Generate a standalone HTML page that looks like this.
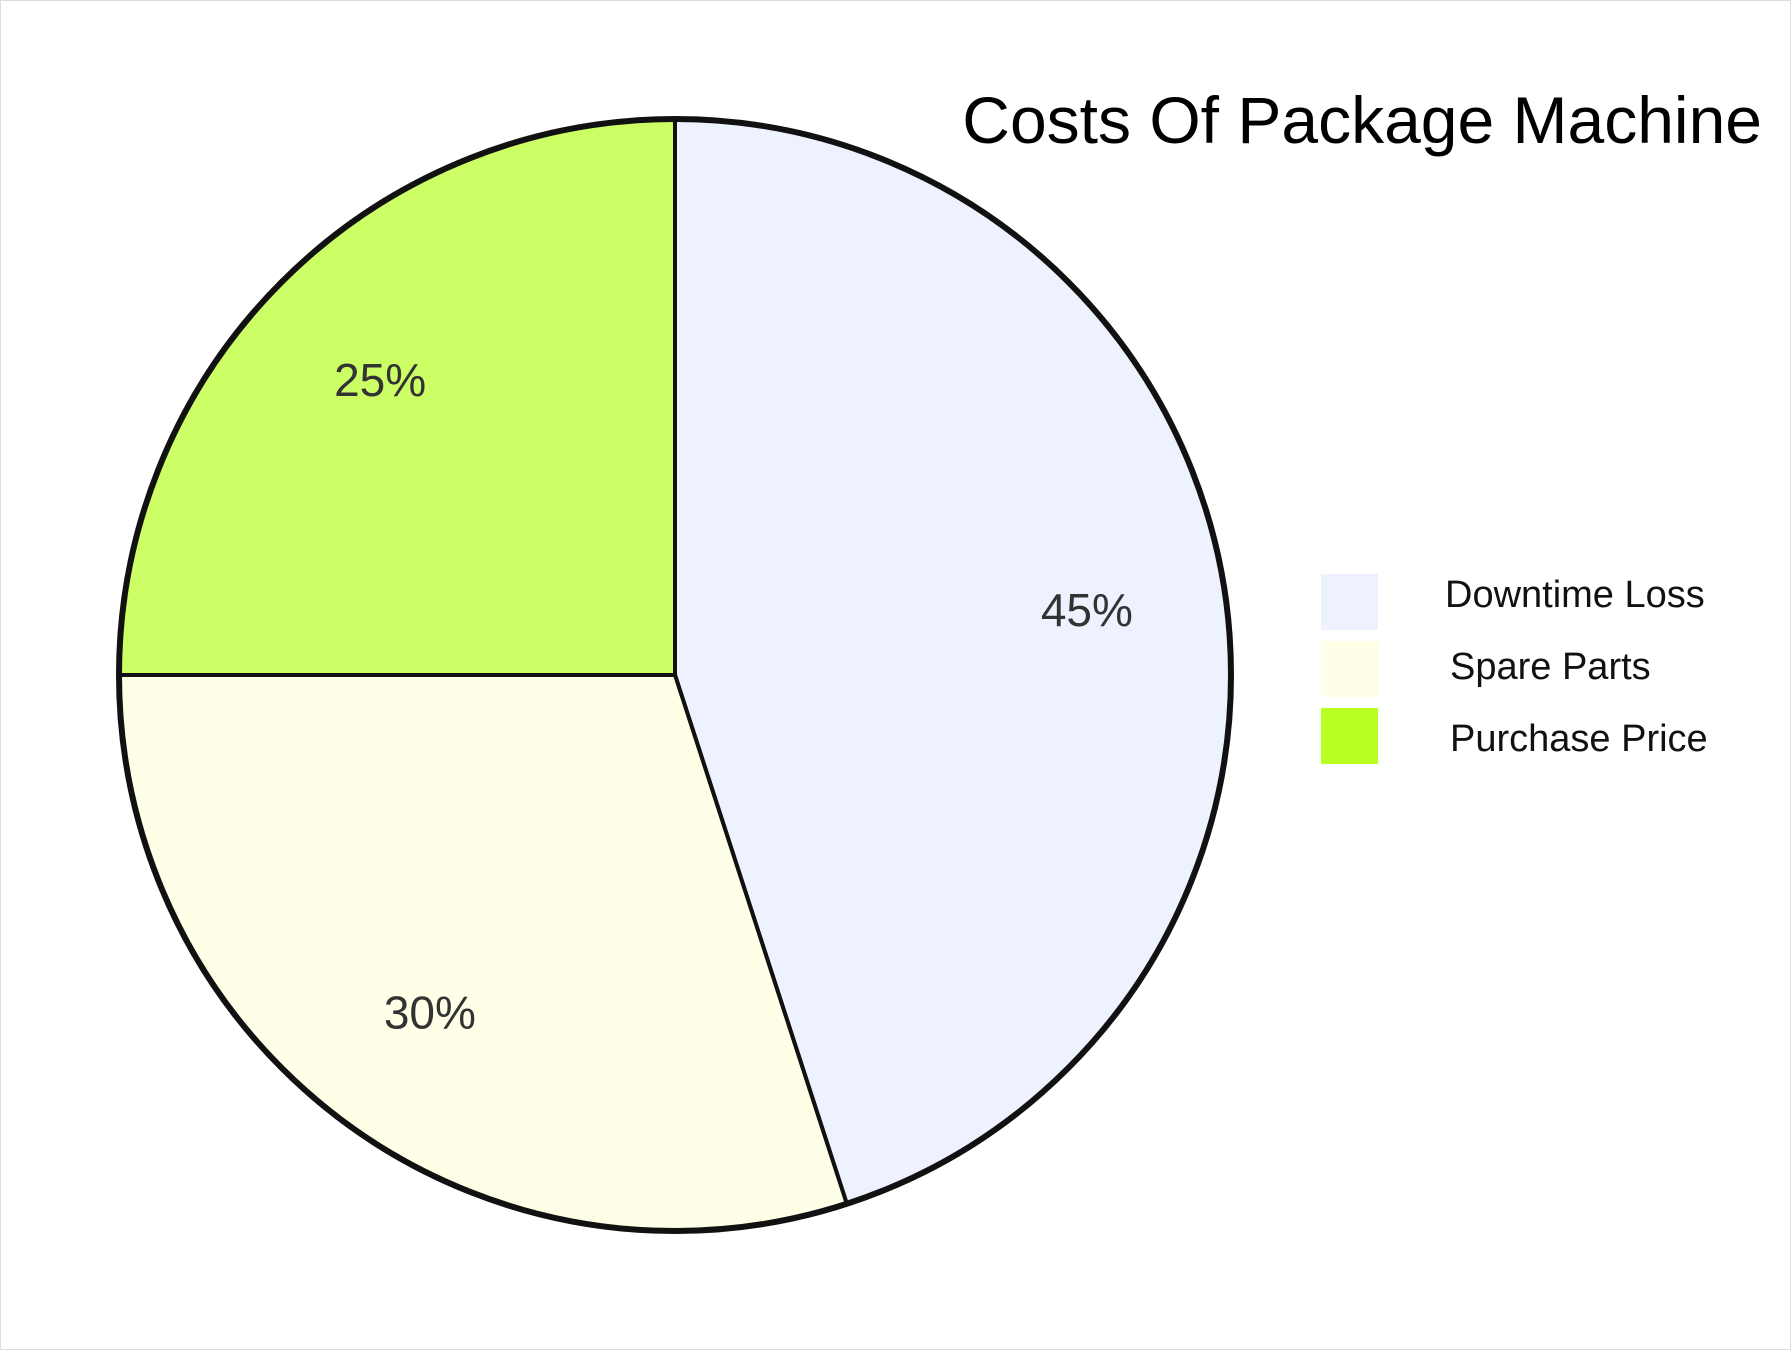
<!DOCTYPE html>
<html><head><meta charset="utf-8"><style>
body{margin:0;background:#fff;}
svg{display:block;font-family:"Liberation Sans",sans-serif;}
</style></head><body>
<svg id="chart" width="1791" height="1350" viewBox="0 0 1791 1350">
<rect x="0.5" y="0.5" width="1790" height="1349" fill="#fff" stroke="#ddd"/>
<text x="1762" y="143" text-anchor="end" font-size="66" fill="#000">Costs Of Package Machine</text>
<g id="slices"></g>
<g id="labels"></g>
<g id="legend"></g>
</svg>
<script>
const categories = ["Downtime Loss", "Spare Parts", "Purchase Price"];
const values = [45, 30, 25];
const valueLabels = ["45%", "30%", "25%"];
const colors = ["#eef2fe", "#feffe6", "#ccff66"];
const legendColors = ["#eef2fe", "#feffe6", "#b8ff22"];
const NS = "http://www.w3.org/2000/svg";
const cx = 675, cy = 675, r = 556;
const total = values.reduce((a,b)=>a+b,0);
const slices = document.getElementById('slices');
const labels = document.getElementById('labels');
const legend = document.getElementById('legend');
let a0 = -Math.PI/2;
values.forEach((v,i)=>{
  const a1 = a0 + v/total*2*Math.PI;
  const x0 = cx + r*Math.cos(a0), y0 = cy + r*Math.sin(a0);
  const x1 = cx + r*Math.cos(a1), y1 = cy + r*Math.sin(a1);
  const large = (a1-a0) > Math.PI ? 1 : 0;
  const p = document.createElementNS(NS,'path');
  p.setAttribute('d',`M${cx},${cy} L${x0},${y0} A${r},${r} 0 ${large} 1 ${x1},${y1} Z`);
  p.setAttribute('fill',colors[i]);
  p.setAttribute('stroke','#111');
  p.setAttribute('stroke-width','4');
  p.setAttribute('stroke-linejoin','round');
  
  
  slices.appendChild(p);
  const am = (a0+a1)/2, lr = r*0.75;
  const t = document.createElementNS(NS,'text');
  t.setAttribute('x', cx + lr*Math.cos(am));
  t.setAttribute('y', cy + lr*Math.sin(am) + 16);
  t.setAttribute('text-anchor','middle');
  t.setAttribute('font-size','46');
  t.setAttribute('fill','#333');
  t.textContent = valueLabels[i];
  
  
  labels.appendChild(t);
  a0 = a1;
});
const outline = document.createElementNS(NS,'circle');
outline.setAttribute('cx',cx);outline.setAttribute('cy',cy);outline.setAttribute('r',r);
outline.setAttribute('fill','none');outline.setAttribute('stroke','#111');outline.setAttribute('stroke-width','6');


slices.appendChild(outline);
categories.forEach((c,i)=>{
  const y = 574 + i*67;
  const g = document.createElementNS(NS,'g');
  
  
  const s = document.createElementNS(NS,'rect');
  s.setAttribute('x',1321);s.setAttribute('y',y);s.setAttribute('width',57);s.setAttribute('height',56);
  s.setAttribute('fill',legendColors[i]);
  
  
  const t = document.createElementNS(NS,'text');
  t.setAttribute('x', i===0 ? 1445 : 1450);t.setAttribute('y',607 + i*72);
  t.setAttribute('font-size','38');t.setAttribute('fill','#111');
  t.textContent = c;
  
  
  g.appendChild(s);g.appendChild(t);legend.appendChild(g);
});
</script>
</body></html>
